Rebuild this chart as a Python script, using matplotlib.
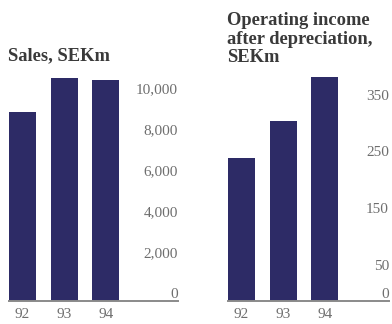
import matplotlib
matplotlib.use("Agg")
import matplotlib.pyplot as plt
import matplotlib.transforms as mtransforms

years = ["92", "93", "94"]
sales = [9200, 10900, 10800]
sales_ticks = [0, 2000, 4000, 6000, 8000, 10000]
income = [252, 318, 396]
income_ticks = [0, 50, 150, 250, 350]

W, H = 392, 324
fig = plt.figure(figsize=(W / 100, H / 100), dpi=100)
fig.patch.set_facecolor("white")

bar_color = "#2d2b66"
tick_color = "#6e6e6e"
title_color = "#3a3a3a"
serif = ["Liberation Serif", "DejaVu Serif"]


def make_panel(left_px, right_px, top_px, bottom_px, values, ticks, ymax, title, title_y_px):
    ax = fig.add_axes([left_px / W, (H - bottom_px) / H,
                       (right_px - left_px) / W, (bottom_px - top_px) / H])
    x = list(range(len(values)))
    width = 0.65
    ax.bar(x, values, width=width, color=bar_color, align="center", zorder=2)
    spacing_px = 41.6
    span_units = (right_px - left_px) / spacing_px
    ax.set_xlim(-width / 2, -width / 2 + span_units)
    ax.set_ylim(0, ymax)
    for s in ["top", "right", "left"]:
        ax.spines[s].set_visible(False)
    ax.spines["bottom"].set_color("#8a8a8a")
    ax.spines["bottom"].set_linewidth(1.4)
    ax.set_yticks([])
    ax.set_xticks(x)
    ax.set_xticklabels(years, family=serif, fontsize=11, color=tick_color)
    ax.tick_params(axis="x", length=0, pad=5)
    tr = mtransforms.blended_transform_factory(ax.transAxes, ax.transData)
    for t in ticks:
        ax.text(1.0, t, f"{t:,}", transform=tr, ha="right", va="bottom",
                family=serif, fontsize=11, color=tick_color)
    ax.patch.set_alpha(0)
    fig.text(left_px / W - 0.002, 1 - title_y_px / H, title, ha="left", va="top",
             family=serif, fontsize=13.3, fontweight="bold", color=title_color,
             linespacing=1.13)
    return ax


# left panel: 20.5 px per 1000, baseline at y=301
make_panel(9, 178, 60, 301, sales, sales_ticks, 241 / 20.5 * 1000,
           "Sales, SEKm", 47)
# right panel: 0.566 px per unit
make_panel(228, 389, 60, 301, income, income_ticks, 241 / 0.566,
           "Operating income\nafter depreciation,\nSEKm", 12)

fig.savefig("out.png", dpi=100)
